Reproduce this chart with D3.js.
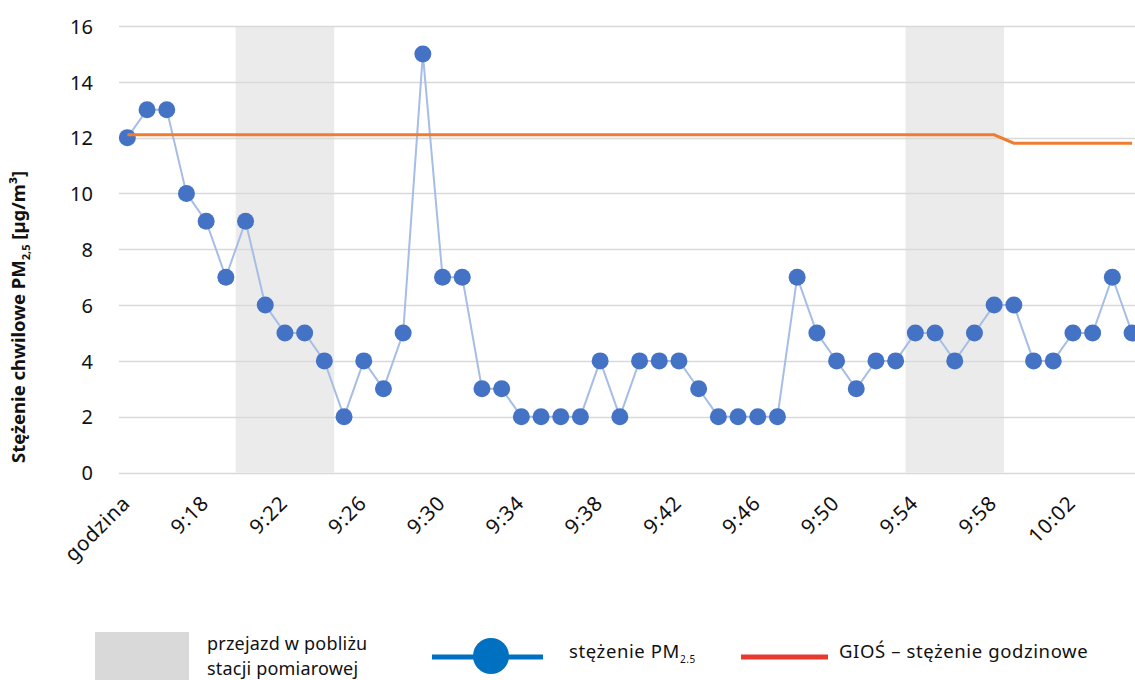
<!DOCTYPE html>
<html>
<head>
<meta charset="utf-8">
<script src="https://cdn.jsdelivr.net/npm/d3@7"></script>
<style>
  html, body { margin: 0; padding: 0; background: #fff; }
  svg { display: block; font-family: "Noto Sans", Lato, sans-serif; }
</style>
</head>
<body>
<svg id="chart" width="1135" height="680"></svg>
<script>
// Minute-by-minute categories (first slot is the header cell "godzina")
const categories = ["godzina"];
const minuteLabels = [
  "9:15","9:16","9:17","9:18","9:19","9:20","9:21","9:22","9:23","9:24",
  "9:25","9:26","9:27","9:28","9:29","9:30","9:31","9:32","9:33","9:34",
  "9:35","9:36","9:37","9:38","9:39","9:40","9:41","9:42","9:43","9:44",
  "9:45","9:46","9:47","9:48","9:49","9:50","9:51","9:52","9:53","9:54",
  "9:55","9:56","9:57","9:58","9:59","10:00","10:01","10:02","10:03","10:04","10:05"
];
categories.push(...minuteLabels);

// Instantaneous PM2.5 readings [µg/m³]
const pm25 = [
  12, 13, 13, 10, 9, 7, 9, 6, 5, 5,
  4, 2, 4, 3, 5, 15, 7, 7, 3, 3,
  2, 2, 2, 2, 4, 2, 4, 4, 4, 3,
  2, 2, 2, 2, 7, 5, 4, 3, 4, 4,
  5, 5, 4, 5, 6, 6, 4, 4, 5, 5,
  7, 5
];

// GIOŚ hourly concentration
const gios = [
  12.1, 12.1, 12.1, 12.1, 12.1, 12.1, 12.1, 12.1, 12.1, 12.1,
  12.1, 12.1, 12.1, 12.1, 12.1, 12.1, 12.1, 12.1, 12.1, 12.1,
  12.1, 12.1, 12.1, 12.1, 12.1, 12.1, 12.1, 12.1, 12.1, 12.1,
  12.1, 12.1, 12.1, 12.1, 12.1, 12.1, 12.1, 12.1, 12.1, 12.1,
  12.1, 12.1, 12.1, 12.1, 12.1, 11.8, 11.8, 11.8, 11.8, 11.8,
  11.8, 11.8
];

// Periods of driving near the monitoring station
const passes = [["9:20", "9:24"], ["9:54", "9:58"]];

const yTicks = [0, 2, 4, 6, 8, 10, 12, 14, 16];
const xTickLabels = ["godzina","9:18","9:22","9:26","9:30","9:34","9:38","9:42","9:46","9:50","9:54","9:58","10:02"];

const svg = d3.select("#chart");
const step = 19.7;
const x0 = 117.5;

const x = d3.scaleBand()
  .domain(categories)
  .range([x0, x0 + categories.length * step])
  .paddingInner(0).paddingOuter(0);

const y = d3.scaleLinear().domain([0, 16]).range([472.5, 26]);

const cx = d => x(d) + x.bandwidth() / 2;

// Shaded bands
svg.append("g").selectAll("rect")
  .data(passes)
  .join("rect")
  .attr("x", d => x(d[0]))
  .attr("width", d => x(d[1]) + x.bandwidth() - x(d[0]))
  .attr("y", y(16))
  .attr("height", y(0) - y(16))
  .attr("fill", "#ebebeb");

// Gridlines
svg.append("g").selectAll("line")
  .data(yTicks)
  .join("line")
  .attr("x1", 119).attr("x2", 1135)
  .attr("y1", d => Math.round(y(d)) + 0.5)
  .attr("y2", d => Math.round(y(d)) + 0.5)
  .attr("stroke", "#d9d9d9")
  .attr("stroke-width", 1.3);

// Y axis labels
const yAxis = d3.axisLeft(y).tickValues(yTicks).tickSize(0).tickPadding(0);
const gy = svg.append("g").attr("transform", "translate(93,0)").call(yAxis);
gy.select(".domain").remove();
gy.selectAll("text")
  .attr("font-size", 20)
  .attr("fill", "#111")
  .attr("font-family", "'Noto Sans', sans-serif")
  .attr("dy", "0.36em");

// X axis labels, rotated 45°
const xAxis = d3.axisBottom(x).tickValues(xTickLabels).tickSize(0);
const gx = svg.append("g").attr("transform", `translate(0,${y(0)})`).call(xAxis);
gx.select(".domain").remove();
gx.selectAll("text")
  .attr("font-size", 20.5)
  .attr("letter-spacing", 0.8)
  .attr("fill", "#111")
  .attr("font-family", "'Noto Sans', sans-serif")
  .attr("text-anchor", "end")
  .attr("transform", "translate(4,32) rotate(-45)")
  .attr("dy", 0)
  .attr("y", 0)
  .attr("x", 0);

// PM2.5 line and markers
const idx = d3.range(categories.length);
svg.append("path")
  .datum(idx)
  .attr("fill", "none")
  .attr("stroke", "#a6bde6")
  .attr("stroke-width", 2)
  .attr("d", d3.line().x(i => cx(categories[i])).y(i => y(pm25[i])));

svg.append("g").selectAll("circle")
  .data(idx)
  .join("circle")
  .attr("cx", i => cx(categories[i]))
  .attr("cy", i => y(pm25[i]))
  .attr("r", 8.5)
  .attr("fill", "#4472c4");

// GIOŚ line
svg.append("path")
  .datum(idx)
  .attr("fill", "none")
  .attr("stroke", "#ed7d31")
  .attr("stroke-width", 3)
  .attr("d", d3.line().x(i => cx(categories[i])).y(i => y(gios[i])));

// Y axis title
const title = svg.append("text")
  .attr("transform", "translate(25,317) rotate(-90)")
  .attr("text-anchor", "middle")
  .attr("font-size", 18.5)
  .attr("font-weight", "bold")
  .attr("font-family", "'Noto Sans', sans-serif")
  .attr("fill", "#111");
title.append("tspan").text("Stężenie chwilowe PM");
title.append("tspan").attr("font-size", 11).attr("dy", 5).text("2,5");
title.append("tspan").attr("dy", -5).text(" [µg/m³]");

// Legend
const lg = svg.append("g").attr("font-size", 18).attr("fill", "#111");
lg.append("rect").attr("x", 95).attr("y", 632).attr("width", 94).attr("height", 60).attr("fill", "#d9d9d9");
lg.append("text").attr("x", 207).attr("y", 650).attr("letter-spacing", 0.2).text("przejazd w pobliżu");
lg.append("text").attr("x", 207).attr("y", 675).attr("letter-spacing", 0.2).text("stacji pomiarowej");

lg.append("line").attr("x1", 432).attr("x2", 543).attr("y1", 657).attr("y2", 657)
  .attr("stroke", "#0070c0").attr("stroke-width", 5);
lg.append("circle").attr("cx", 491).attr("cy", 656).attr("r", 18).attr("fill", "#0070c0");
const t2 = lg.append("text").attr("x", 569).attr("y", 658).attr("font-size", 18.5).attr("letter-spacing", 0.6);
t2.append("tspan").text("stężenie PM");
t2.append("tspan").attr("font-size", 10).attr("dy", 5).text("2.5");

lg.append("line").attr("x1", 741).attr("x2", 828).attr("y1", 657).attr("y2", 657)
  .attr("stroke", "#e8392f").attr("stroke-width", 5);
lg.append("text").attr("x", 839).attr("y", 658).attr("font-size", 18.5).attr("letter-spacing", 0.6)
  .text("GIOŚ – stężenie godzinowe");
</script>
</body>
</html>
